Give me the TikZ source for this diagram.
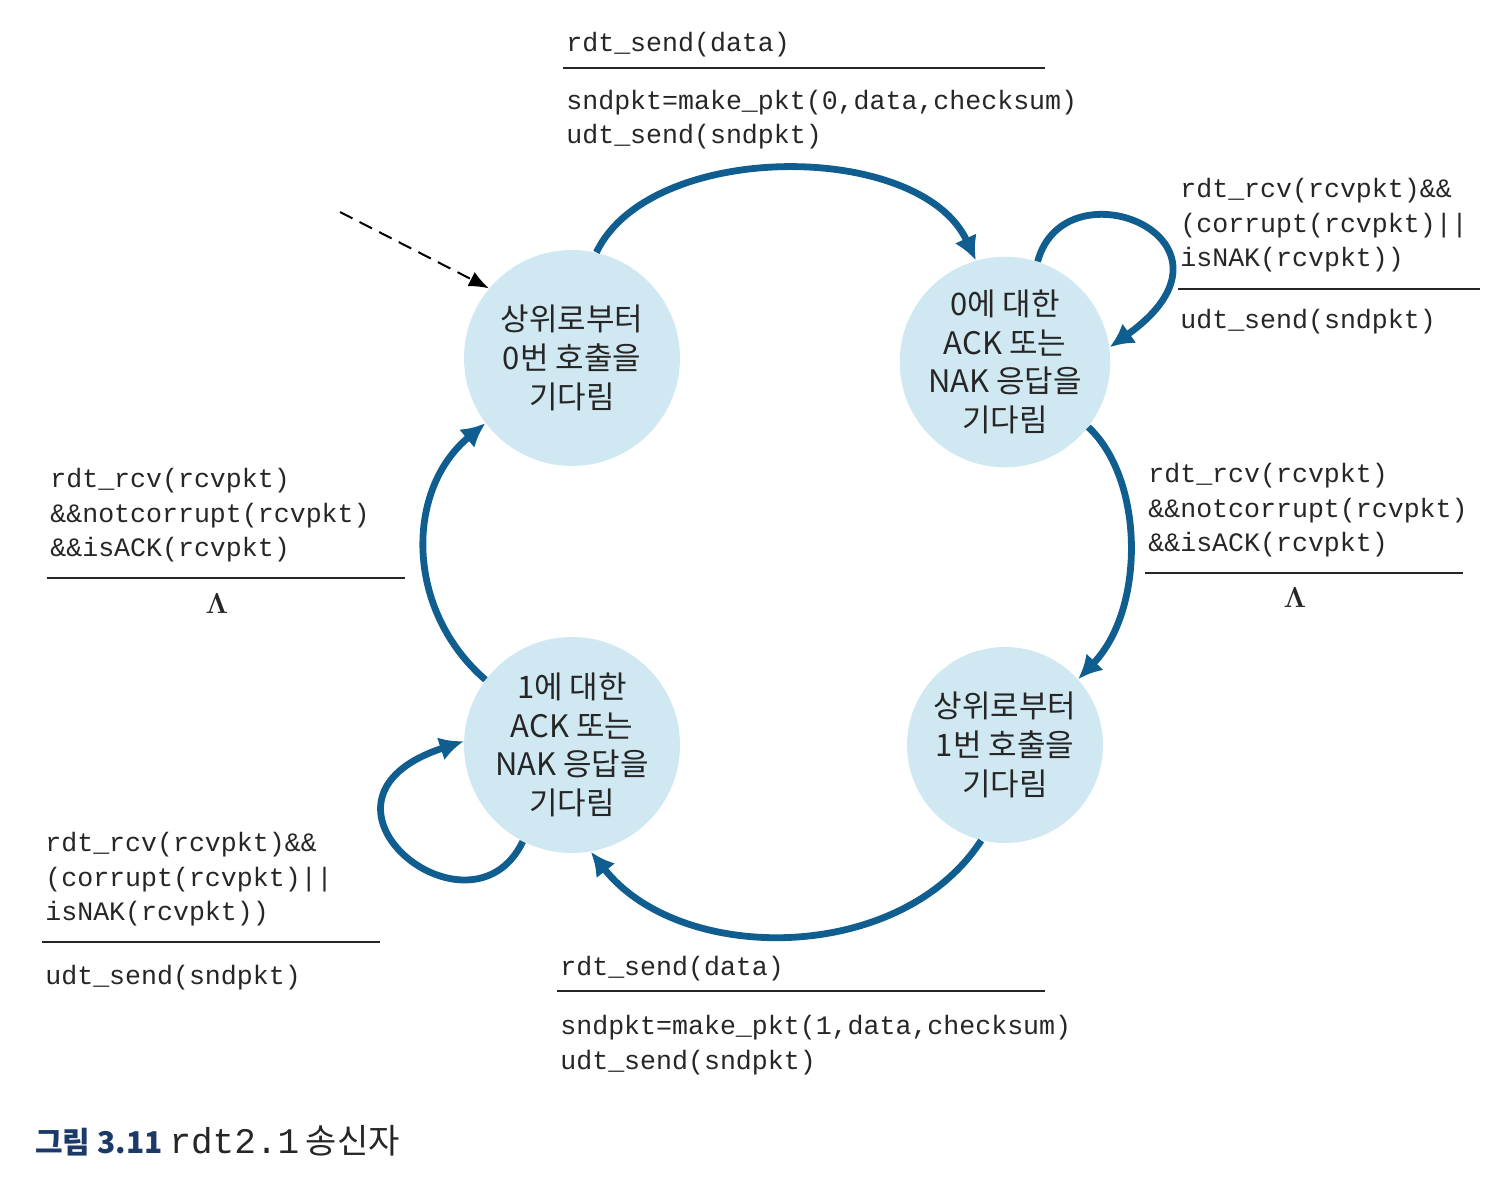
\documentclass[tikz,border=0pt]{standalone}
\usepackage{fontspec}
\setmonofont{Liberation Mono}
\newfontfamily\kr{Noto Sans CJK KR}
\usepackage{xcolor}
\usetikzlibrary{arrows.meta}

\definecolor{arcblue}{RGB}{16,94,144}
\definecolor{statefill}{RGB}{208,232,242}
\definecolor{capblue}{RGB}{28,58,104}
\definecolor{inkgray}{RGB}{38,38,38}

\begin{document}
\begin{tikzpicture}[x=0.5pt, y=-0.5pt,
    state/.style={circle, fill=statefill, inner sep=0pt, align=center, text=inkgray,
        font=\kr\fontsize{15.5}{19.3}\selectfont},
    trans/.style={line width=3.4pt, arcblue, -{Latex[length=12pt,width=12pt]}},
    lbl/.style={anchor=base west, inner sep=0pt, align=left, text=inkgray,
        font=\ttfamily\fontsize{13.3}{17.3}\selectfont},
    nothing/.style={text=inkgray, font=\boldmath\fontsize{15}{15}\selectfont},
    bar/.style={line width=0.8pt, inkgray}]
    \useasboundingbox (0,0) rectangle (1512,1192);

    % states
    \node[state, minimum size=108pt] (wait0) at (572,358) {상위로부터\\0번 호출을\\기다림};
    \node[state, minimum size=98pt] (ack0) at (1005,362) {0에 대한\\ACK 또는\\NAK 응답을\\기다림};
    \node[state, minimum size=98pt] (wait1) at (1005,745) {상위로부터\\1번 호출을\\기다림};
    \node[state, minimum size=108pt] (ack1) at (572,745) {1에 대한\\ACK 또는\\NAK 응답을\\기다림};

    % initial state
    \coordinate (init) at (340,212);
    \draw[line width=1pt, dash pattern=on 7pt off 4pt, -{Latex[length=10pt,width=8pt]}] (init) -- (wait0.140);

    % transitions
    \draw[trans] (wait0.77) .. controls (650,140) and (920,140) .. (ack0.106);
    \draw[trans] (ack0.72) .. controls (1065,160) and (1260,240) .. (ack0.8);
    \draw[trans] (ack0.-38) .. controls (1145,480) and (1145,610) .. (wait1.42);
    \draw[trans] (wait1.-104) .. controls (900,965) and (680,965) .. (ack1.-80);
    \draw[trans] (ack1.-117) .. controls (470,950) and (285,800) .. (ack1.178);
    \draw[trans] (ack1.143) .. controls (405,610) and (405,490) .. (wait0.-143);

    % wait0 -> ack0 (multi-line labels sit on their last baseline)
    \node[lbl] (evsend0) at (566,52) {rdt\_send(data)};
    \draw[bar] (563,68) -- (1045,68);
    \node[lbl] (actsend0) at (566,144) {sndpkt=make\_pkt(0,data,checksum)\\udt\_send(sndpkt)};

    % ack0 self loop
    \node[lbl] (evnak0) at (1180,267) {rdt\_rcv(rcvpkt)\&\&\\(corrupt(rcvpkt)||\\isNAK(rcvpkt))};
    \draw[bar] (1178,289) -- (1480,289);
    \node[lbl] (actnak0) at (1180,329) {udt\_send(sndpkt)};

    % ack0 -> wait1
    \node[lbl] (evack0) at (1148,552) {rdt\_rcv(rcvpkt)\\\&\&notcorrupt(rcvpkt)\\\&\&isACK(rcvpkt)};
    \draw[bar] (1145,573) -- (1463,573);
    \node[nothing] (actack0) at (1295,598) {$\Lambda$};

    % ack1 -> wait0
    \node[lbl] (evack1) at (50,557) {rdt\_rcv(rcvpkt)\\\&\&notcorrupt(rcvpkt)\\\&\&isACK(rcvpkt)};
    \draw[bar] (47,578) -- (405,578);
    \node[nothing] (actack1) at (217,604) {$\Lambda$};

    % ack1 self loop
    \node[lbl] (evnak1) at (45,921) {rdt\_rcv(rcvpkt)\&\&\\(corrupt(rcvpkt)||\\isNAK(rcvpkt))};
    \draw[bar] (42,942) -- (380,942);
    \node[lbl] (actnak1) at (45,984) {udt\_send(sndpkt)};

    % wait1 -> ack1
    \node[lbl] (evsend1) at (560,975) {rdt\_send(data)};
    \draw[bar] (557,991) -- (1045,991);
    \node[lbl] (actsend1) at (560,1069) {sndpkt=make\_pkt(1,data,checksum)\\udt\_send(sndpkt)};

    % caption
    \node[anchor=base west, inner sep=0pt, text=inkgray, font=\kr\fontsize{15}{15}\selectfont] (caption) at (35,1153)
        {{\bfseries\color{capblue}그림 3.11} {\ttfamily\fontsize{18}{18}\selectfont rdt2.1} {\fontsize{17}{17}\selectfont 송신자}};
\end{tikzpicture}
\end{document}
